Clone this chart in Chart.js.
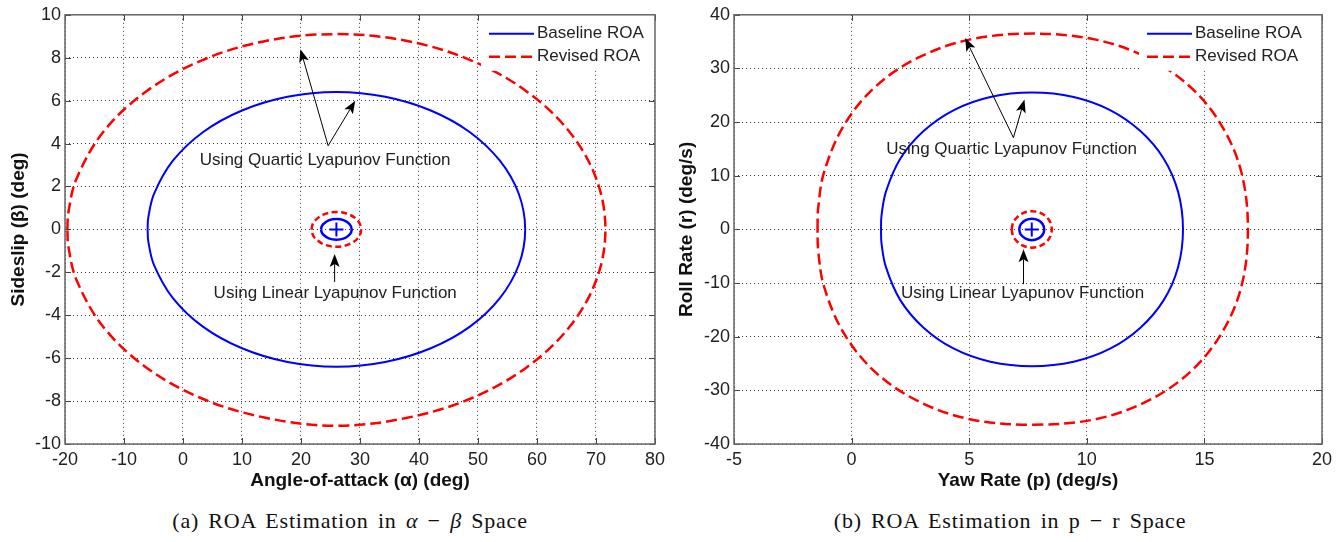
<!DOCTYPE html>
<html>
<head>
<meta charset="utf-8">
<script src="https://cdn.jsdelivr.net/npm/chart.js@4.4.1/dist/chart.umd.min.js"></script>
<style>
  body { margin: 0; background: #fff; width: 1341px; height: 542px; position: relative; overflow: hidden; }
  .panel { position: absolute; top: 0; height: 500px; }
  .caption { position: absolute; top: 509px; line-height: 24px; font-family: "Liberation Serif", serif; font-size: 22px; letter-spacing: 0.8px; word-spacing: 3px; color: #111; text-align: center; }
</style>
</head>
<body>
<div class="panel" style="left:0;width:670px"><canvas id="abChart"></canvas></div>
<div class="panel" style="left:670px;width:671px"><canvas id="prChart"></canvas></div>
<div class="caption" style="left:0;width:700px">(a) ROA Estimation in <i>α</i> − <i>β</i> Space</div>
<div class="caption" style="left:680px;width:660px">(b) ROA Estimation in p − r Space</div>
<script>
// ---- (a) alpha-beta space ----
const abXTicks = [-20, -10, 0, 10, 20, 30, 40, 50, 60, 70, 80];
const abYTicks = [-10, -8, -6, -4, -2, 0, 2, 4, 6, 8, 10];
const abBaseX = [-6.0, -5.88, -4.91, -1.71, 3.37, 10.0, 17.72, 26.0, 34.28, 42.0, 48.63, 53.71, 56.91, 58.0, 56.91, 53.71, 48.63, 42.0, 34.28, 26.0, 17.72, 10.0, 3.37, -1.71, -4.91, -5.88, -6.0];
const abBaseY = [0, 0.56, 1.66, 3.2, 4.53, 5.54, 6.18, 6.4, 6.18, 5.54, 4.53, 3.2, 1.66, 0, -1.66, -3.2, -4.53, -5.54, -6.18, -6.4, -6.18, -5.54, -4.53, -3.2, -1.66, -0.56, 0];
const abRevX = [-19.6, -19.43, -18.05, -13.49, -6.24, 3.2, 14.2, 26.0, 37.8, 48.8, 58.24, 65.49, 70.05, 71.6, 70.05, 65.49, 58.24, 48.8, 37.8, 26.0, 14.2, 3.2, -6.24, -13.49, -18.05, -19.43, -19.6];
const abRevY = [0, 0.79, 2.36, 4.55, 6.43, 7.88, 8.79, 9.1, 8.79, 7.88, 6.43, 4.55, 2.36, 0, -2.36, -4.55, -6.43, -7.88, -8.79, -9.15, -8.79, -7.88, -6.43, -4.55, -2.36, -0.79, 0];
const abBaseSmX = [23.4, 23.49, 23.75, 24.7, 26.0, 27.3, 28.25, 28.6, 28.25, 27.3, 26.0, 24.7, 23.75, 23.49, 23.4];
const abBaseSmY = [0, 0.12, 0.24, 0.42, 0.48, 0.42, 0.24, 0, -0.24, -0.42, -0.48, -0.42, -0.24, -0.12, 0];
const abRevSmX = [21.8, 21.94, 22.36, 23.9, 26.0, 28.1, 29.64, 30.2, 29.64, 28.1, 26.0, 23.9, 22.36, 21.94, 21.8];
const abRevSmY = [0, 0.21, 0.41, 0.7, 0.81, 0.7, 0.41, 0, -0.41, -0.7, -0.81, -0.7, -0.41, -0.21, 0];
const abCenter = [26, 0];
const abNotes = [['Using Quartic Lyapunov Function', 24.1, 3.2], ['Using Linear Lyapunov Function', 25.8, -2.96]];
const abArrows = [[24.6, 3.9, 19.9, 8.4], [24.6, 3.9, 29.2, 6.0], [25.7, -2.45, 25.7, -1.15]];

// ---- (b) p-r space ----
const prXTicks = [-5, 0, 5, 10, 15, 20];
const prYTicks = [-40, -30, -20, -10, 0, 10, 20, 30, 40];
const prBaseX = [1.25, 1.27, 1.46, 2.07, 3.06, 4.35, 5.9, 7.67, 9.44, 10.99, 12.28, 13.27, 13.88, 14.09, 13.88, 13.27, 12.28, 10.99, 9.44, 7.67, 5.9, 4.35, 3.06, 2.07, 1.46, 1.27, 1.25];
const prBaseY = [0, 2.5, 7.04, 13.18, 18.32, 22.24, 24.67, 25.5, 24.67, 22.24, 18.32, 13.18, 7.04, 0, -7.04, -13.18, -18.32, -22.24, -24.67, -25.5, -24.67, -22.24, -18.32, -13.18, -7.04, -2.5, 0];
const prRevX = [-1.45, -1.42, -1.17, -0.32, 1.02, 2.83, 5.02, 7.7, 10.38, 12.57, 14.38, 15.72, 16.57, 16.85, 16.57, 15.72, 14.38, 12.57, 10.38, 7.7, 5.02, 2.83, 1.02, -0.32, -1.17, -1.42, -1.45];
const prRevY = [0, 3.97, 10.69, 19.44, 26.64, 32.01, 35.37, 36.5, 35.37, 32.01, 26.64, 19.44, 10.69, 0, -10.69, -19.44, -26.64, -32.01, -35.37, -36.4, -35.37, -32.01, -26.64, -19.44, -10.69, -3.97, 0];
const prBaseSmX = [7.13, 7.15, 7.2, 7.4, 7.66, 7.93, 8.12, 8.19, 8.12, 7.93, 7.66, 7.4, 7.2, 7.15, 7.13];
const prBaseSmY = [0, 0.52, 1.0, 1.73, 2.0, 1.73, 1.0, 0, -1.0, -1.73, -2.0, -1.73, -1.0, -0.52, 0];
const prRevSmX = [6.81, 6.84, 6.92, 7.24, 7.66, 8.09, 8.4, 8.51, 8.4, 8.09, 7.66, 7.24, 6.92, 6.84, 6.81];
const prRevSmY = [0, 0.88, 1.7, 2.94, 3.4, 2.94, 1.7, 0, -1.7, -2.94, -3.4, -2.94, -1.7, -0.88, 0];
const prCenter = [7.66, 0];
const prNotes = [['Using Quartic Lyapunov Function', 6.8, 14.9], ['Using Linear Lyapunov Function', 7.27, -11.9]];
const prArrows = [[6.88, 17.1, 4.83, 35.66], [6.88, 17.1, 7.35, 24.2], [7.31, -10.2, 7.31, -3.72]];

const BLUE = '#0000ff', RED = '#ff0000', INK = '#222';
const SANS = '"Liberation Sans", Arial, sans-serif';

const pts = (xs, ys) => xs.map((x, i) => ({ x, y: ys[i] }));

function drawArrow(ctx, x0, y0, x1, y1) {
  const ang = Math.atan2(y1 - y0, x1 - x0), c = Math.cos(ang), s = Math.sin(ang);
  const L = 13, W = 5, N = 3;
  ctx.beginPath();
  ctx.moveTo(x0, y0);
  ctx.lineTo(x1 - (L - N) * c, y1 - (L - N) * s);
  ctx.stroke();
  const bx = x1 - L * c, by = y1 - L * s;
  ctx.beginPath();
  ctx.moveTo(x1, y1);
  ctx.lineTo(bx - s * W, by + c * W);
  ctx.lineTo(x1 - (L - N) * c, y1 - (L - N) * s);
  ctx.lineTo(bx + s * W, by - c * W);
  ctx.closePath();
  ctx.fill();
}

// box, inward ticks, legend, arrows and notes
const decor = {
  id: 'decor',
  afterDatasetsDraw(chart, args, o) {
    const { ctx, chartArea: a, scales: { x, y } } = chart;
    ctx.save();
    // ticks on all four sides
    ctx.strokeStyle = '#444';
    ctx.lineWidth = 1;
    ctx.beginPath();
    o.xTicks.forEach(v => {
      const p = Math.round(x.getPixelForValue(v)) + 0.5;
      ctx.moveTo(p, a.bottom); ctx.lineTo(p, a.bottom - 6);
      ctx.moveTo(p, a.top); ctx.lineTo(p, a.top + 6);
    });
    o.yTicks.forEach(v => {
      const p = Math.round(y.getPixelForValue(v)) + 0.5;
      ctx.moveTo(a.left, p); ctx.lineTo(a.left + 6, p);
      ctx.moveTo(a.right, p); ctx.lineTo(a.right - 6, p);
    });
    ctx.stroke();

    // legend
    const lx = a.right - o.legendWidth, ly = a.top;
    ctx.fillStyle = '#fff';
    ctx.fillRect(lx, ly, o.legendWidth, 56);
    ctx.font = '17px ' + SANS;
    ctx.textBaseline = 'middle';
    chart.data.datasets.slice(0, 2).forEach((ds, i) => {
      const yy = ly + 19 + i * 23;
      ctx.strokeStyle = ds.borderColor;
      ctx.lineWidth = ds.borderWidth;
      ctx.setLineDash(ds.borderDash || []);
      ctx.beginPath(); ctx.moveTo(lx + 8, yy); ctx.lineTo(lx + 53, yy); ctx.stroke();
      ctx.setLineDash([]);
      ctx.fillStyle = INK;
      ctx.textAlign = 'left';
      ctx.fillText(ds.label, lx + 56, yy);
    });

    // plot box
    ctx.strokeStyle = '#666';
    ctx.lineWidth = 1.5;
    ctx.strokeRect(a.left, a.top, a.right - a.left, a.bottom - a.top);

    // arrows
    ctx.strokeStyle = '#000';
    ctx.fillStyle = '#000';
    ctx.lineWidth = 1;
    o.arrows.forEach(([x0, y0, x1, y1]) => drawArrow(ctx,
      x.getPixelForValue(x0), y.getPixelForValue(y0), x.getPixelForValue(x1), y.getPixelForValue(y1)));

    // notes
    ctx.fillStyle = INK;
    ctx.textAlign = 'center';
    ctx.font = '17px ' + SANS;
    o.notes.forEach(([t, vx, vy]) => ctx.fillText(t, x.getPixelForValue(vx), y.getPixelForValue(vy)));
    ctx.restore();
  }
};

function makeRoa(id, d) {
  const axisFont = { family: SANS, size: 18 };
  const titleFont = { family: SANS, size: 19, weight: 'bold' };
  return new Chart(document.getElementById(id), {
    type: 'scatter',
    data: {
      datasets: [
        { label: 'Baseline ROA', data: pts(d.baseX, d.baseY), showLine: true, borderColor: BLUE, borderWidth: 2, pointRadius: 0, tension: 0.35 },
        { label: 'Revised ROA', data: pts(d.revX, d.revY), showLine: true, borderColor: RED, borderWidth: 2.5, borderDash: [11, 5], pointRadius: 0, tension: 0.35 },
        { label: 'Baseline small', data: pts(d.baseSmX, d.baseSmY), showLine: true, borderColor: BLUE, borderWidth: 2.5, pointRadius: 0, tension: 0.35 },
        { label: 'Revised small', data: pts(d.revSmX, d.revSmY), showLine: true, borderColor: RED, borderWidth: 2.5, borderDash: [6, 3.5], pointRadius: 0, tension: 0.35 },
        { label: 'Trim', data: [{ x: d.center[0], y: d.center[1] }], pointStyle: 'cross', pointRadius: 7, pointBorderWidth: 2, pointBorderColor: BLUE, borderColor: BLUE }
      ]
    },
    options: {
      responsive: true,
      maintainAspectRatio: false,
      animation: false,
      layout: { padding: { top: 14, right: d.padRight, left: 0, bottom: 0 } },
      scales: {
        x: {
          min: d.xTicks[0], max: d.xTicks[d.xTicks.length - 1],
          afterBuildTicks: s => { s.ticks = d.xTicks.map(v => ({ value: v })); },
          afterFit: s => { s.height = 56; },
          grid: { color: 'rgba(0,0,0,0.8)', lineWidth: 1, drawTicks: false },
          border: { display: false, dash: [1, 3] },
          ticks: { font: axisFont, color: INK, padding: 5, maxRotation: 0, autoSkip: false },
          title: { display: true, text: d.xTitle, font: titleFont, color: '#111', padding: { top: 0, bottom: 8 } }
        },
        y: {
          min: d.yTicks[0], max: d.yTicks[d.yTicks.length - 1],
          afterBuildTicks: s => { s.ticks = d.yTicks.map(v => ({ value: v })); },
          afterFit: s => { s.width = d.yWidth; },
          grid: { color: 'rgba(0,0,0,0.8)', lineWidth: 1, drawTicks: false },
          border: { display: false, dash: [1, 3] },
          ticks: { font: axisFont, color: INK, padding: 4, autoSkip: false },
          title: { display: true, text: d.yTitle, font: titleFont, color: '#111', padding: { top: d.yTitlePad, bottom: 0 } }
        }
      },
      plugins: {
        legend: { display: false },
        tooltip: { enabled: false },
        decor: { xTicks: d.xTicks, yTicks: d.yTicks, arrows: d.arrows, notes: d.notes, legendWidth: d.legendWidth }
      }
    },
    plugins: [decor]
  });
}

makeRoa('abChart', {
  xTicks: abXTicks, yTicks: abYTicks,
  baseX: abBaseX, baseY: abBaseY, revX: abRevX, revY: abRevY,
  baseSmX: abBaseSmX, baseSmY: abBaseSmY, revSmX: abRevSmX, revSmY: abRevSmY,
  center: abCenter, notes: abNotes, arrows: abArrows,
  xTitle: 'Angle-of-attack (α) (deg)', yTitle: 'Sideslip (β) (deg)',
  padRight: 11, yWidth: 65, yTitlePad: 7, legendWidth: 174
});

makeRoa('prChart', {
  xTicks: prXTicks, yTicks: prYTicks,
  baseX: prBaseX, baseY: prBaseY, revX: prRevX, revY: prRevY,
  baseSmX: prBaseSmX, baseSmY: prBaseSmY, revSmX: prRevSmX, revSmY: prRevSmY,
  center: prCenter, notes: prNotes, arrows: prArrows,
  xTitle: 'Yaw Rate (p) (deg/s)', yTitle: 'Roll Rate (r) (deg/s)',
  padRight: 19, yWidth: 64, yTitlePad: 5, legendWidth: 183
});
</script>
</body>
</html>
